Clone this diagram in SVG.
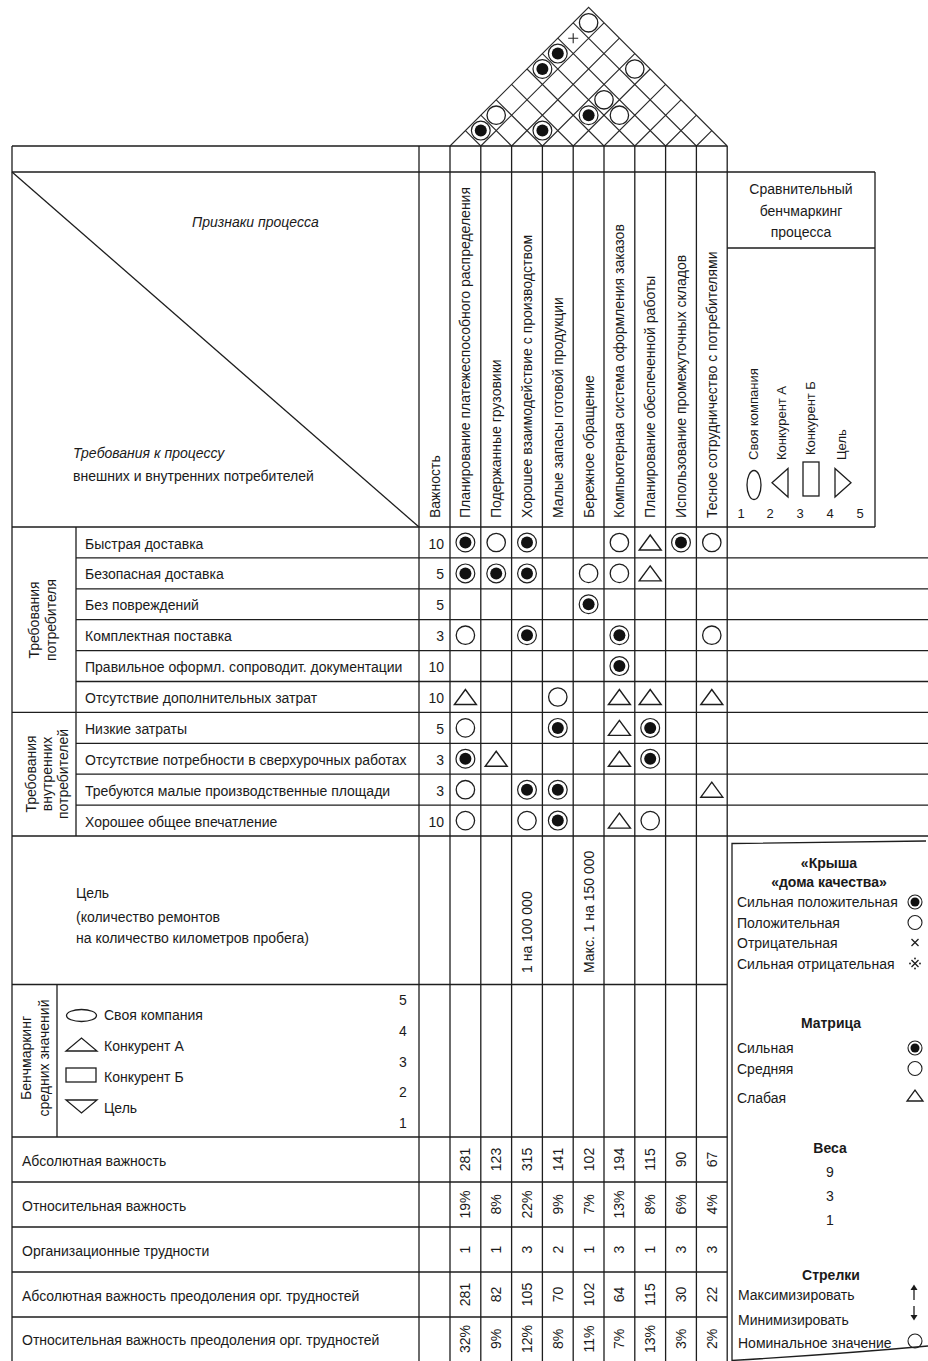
<svg xmlns="http://www.w3.org/2000/svg" width="928" height="1361" viewBox="0 0 928 1361">
<style>
  .ln{stroke:#1e1e1e;stroke-width:1.3;fill:none}
  .rf{stroke:#2a2a2a;stroke-width:1.1;fill:none}
  text{font-family:"Liberation Sans",Arial,sans-serif;font-size:14px;fill:#1a1a1a}
  .sm{font-size:13px}
  .bd{font-weight:bold}
  .it{font-style:italic}
  .mid{text-anchor:middle}
  .end{text-anchor:end}
</style>
<defs>
  <g id="bull"><circle r="9.4" fill="#fff" stroke="#1e1e1e" stroke-width="1.2"/><circle r="6" fill="#111"/></g>
  <circle id="ring" r="9.2" fill="none" stroke="#1e1e1e" stroke-width="1.3"/>
  <path id="tri" d="M-11 7.5H11L0 -7.5Z" fill="none" stroke="#1e1e1e" stroke-width="1.4"/>
  <g id="bull-s"><circle r="7" fill="#fff" stroke="#1e1e1e" stroke-width="1.1"/><circle r="4.5" fill="#111"/></g>
  <circle id="ring-s" r="7" fill="none" stroke="#1e1e1e" stroke-width="1.1"/>
</defs>
<rect width="928" height="1361" fill="#fff"/>

<!-- roof: correlation triangle above the process columns -->
<g id="roof">
  <path class="rf" d="M450 146L588.6 7.4L727.2 146
    M480.8 146L604 22.8M511.6 146L619.4 38.2M542.4 146L634.8 53.6M573.2 146L650.2 69
    M604 146L665.6 84.4M634.8 146L681 99.8M665.6 146L696.4 115.2M696.4 146L711.8 130.6
    M480.8 146L465.4 130.6M511.6 146L480.8 115.2M542.4 146L496.2 99.8M573.2 146L511.6 84.4
    M604 146L527 69M634.8 146L542.4 53.6M665.6 146L557.8 38.2M696.4 146L573.2 22.8"/>
  <use href="#ring" x="588.6" y="22.8"/>
  <path class="rf" d="M568.2 38.2H578.2M573.2 33.2V43.2" stroke-width="1.2"/>
  <use href="#bull" x="557.8" y="53.6"/>
  <use href="#bull" x="542.4" y="69"/>
  <use href="#ring" x="634.8" y="69"/>
  <use href="#ring" x="604" y="99.8"/>
  <use href="#bull" x="588.6" y="115.2"/>
  <use href="#ring" x="619.4" y="115.2"/>
  <use href="#ring" x="496.2" y="115.2"/>
  <use href="#bull" x="480.8" y="130.6"/>
  <use href="#bull" x="542.4" y="130.6"/>
</g>

<!-- table rules -->
<g id="grid-lines">
  <path class="ln" d="M12 146H727.2M12 172H875M727.2 248H875M12 527H875
    M76 557.9H928M76 588.8H928M76 619.7H928M76 650.6H928M76 681.5H928
    M12 712.4H928M76 743.3H928M76 774.2H928M76 805.1H928M12 836H928
    M12 984.5H727.2M12 1137H727.2M12 1182H727.2M12 1227H727.2M12 1272H727.2M12 1317H727.2"/>
  <path class="ln" d="M12 146V1361M419 146V1361M76 527V836M57 984.5V1137M875 172V527
    M450 146V1361M480.8 146V1361M511.6 146V1361M542.4 146V1361M573.2 146V1361
    M604 146V1361M634.8 146V1361M665.6 146V1361M696.4 146V1361M727.2 146V1361"/>
  <path class="ln" d="M12 172L419 527" stroke-width="1.1"/>
</g>

<!-- header corner -->
<g id="header">
  <text class="it" x="192" y="227">Признаки процесса</text>
  <text class="it" x="73" y="458">Требования к процессу</text>
  <text x="73" y="480.5">внешних и внутренних потребителей</text>
  <text transform="translate(439.5,518) rotate(-90)">Важность</text>
</g>

<!-- process characteristics (column headers) -->
<g id="columns">
  <text transform="translate(470.4,518) rotate(-90)">Планирование платежеспособного распределения</text>
  <text transform="translate(501.2,518) rotate(-90)">Подержанные грузовики</text>
  <text transform="translate(532,518) rotate(-90)">Хорошее взаимодействие с производством</text>
  <text transform="translate(562.8,518) rotate(-90)">Малые запасы готовой продукции</text>
  <text transform="translate(593.6,518) rotate(-90)">Бережное обращение</text>
  <text transform="translate(624.4,518) rotate(-90)">Компьютерная система оформления заказов</text>
  <text transform="translate(655.2,518) rotate(-90)">Планирование обеспеченной работы</text>
  <text transform="translate(686,518) rotate(-90)">Использование промежуточных складов</text>
  <text transform="translate(716.8,518) rotate(-90)">Тесное сотрудничество с потребителями</text>
</g>

<!-- comparative benchmarking header -->
<g id="benchmark-header">
  <text class="mid" x="801" y="194">Сравнительный</text>
  <text class="mid" x="801" y="215.5">бенчмаркинг</text>
  <text class="mid" x="801" y="237">процесса</text>
  <text class="sm" transform="translate(758,460) rotate(-90)">Своя компания</text>
  <text class="sm" transform="translate(786,460) rotate(-90)">Конкурент А</text>
  <text class="sm" transform="translate(815,455) rotate(-90)">Конкурент Б</text>
  <text class="sm" transform="translate(846,460) rotate(-90)">Цель</text>
  <ellipse cx="754" cy="485" rx="7" ry="14.5" class="ln" stroke-width="1.2"/>
  <path class="ln" stroke-width="1.2" d="M788 468.5V497L772 482.7Z"/>
  <rect x="803" y="462" width="16" height="34" class="ln" stroke-width="1.2"/>
  <path class="ln" stroke-width="1.2" d="M835 468.5V497L851 482.7Z"/>
  <text class="sm mid" x="741" y="518">1</text>
  <text class="sm mid" x="770" y="518">2</text>
  <text class="sm mid" x="800" y="518">3</text>
  <text class="sm mid" x="830" y="518">4</text>
  <text class="sm mid" x="860" y="518">5</text>
</g>

<!-- customer requirements with importance -->
<g id="requirements">
  <text class="mid" transform="translate(39,620) rotate(-90)">Требования</text>
  <text class="mid" transform="translate(56,620) rotate(-90)">потребителя</text>
  <text class="mid" transform="translate(36,774) rotate(-90)">Требования</text>
  <text class="mid" transform="translate(52,774) rotate(-90)">внутренних</text>
  <text class="mid" transform="translate(68,774) rotate(-90)">потребителей</text>
  <text x="85" y="548.5">Быстрая доставка</text>
  <text x="85" y="579.4">Безопасная доставка</text>
  <text x="85" y="610.3">Без повреждений</text>
  <text x="85" y="641.2">Комплектная поставка</text>
  <text x="85" y="672.1">Правильное оформл. сопроводит. документации</text>
  <text x="85" y="703">Отсутствие дополнительных затрат</text>
  <text x="85" y="733.9">Низкие затраты</text>
  <text x="85" y="764.8">Отсутствие потребности в сверхурочных работах</text>
  <text x="85" y="795.7">Требуются малые производственные площади</text>
  <text x="85" y="826.6">Хорошее общее впечатление</text>
  <text class="end" x="444" y="548.5">10</text>
  <text class="end" x="444" y="579.4">5</text>
  <text class="end" x="444" y="610.3">5</text>
  <text class="end" x="444" y="641.2">3</text>
  <text class="end" x="444" y="672.1">10</text>
  <text class="end" x="444" y="703">10</text>
  <text class="end" x="444" y="733.9">5</text>
  <text class="end" x="444" y="764.8">3</text>
  <text class="end" x="444" y="795.7">3</text>
  <text class="end" x="444" y="826.6">10</text>
</g>

<!-- relationship matrix -->
<g id="matrix">
  <use href="#bull" x="465.4" y="542.5"/><use href="#ring" x="496.2" y="542.5"/><use href="#bull" x="527" y="542.5"/>
  <use href="#ring" x="619.4" y="542.5"/><use href="#tri" x="650.2" y="542.5"/><use href="#bull" x="681" y="542.5"/><use href="#ring" x="711.8" y="542.5"/>

  <use href="#bull" x="465.4" y="573.4"/><use href="#bull" x="496.2" y="573.4"/><use href="#bull" x="527" y="573.4"/>
  <use href="#ring" x="588.6" y="573.4"/><use href="#ring" x="619.4" y="573.4"/><use href="#tri" x="650.2" y="573.4"/>

  <use href="#bull" x="588.6" y="604.3"/>

  <use href="#ring" x="465.4" y="635.2"/><use href="#bull" x="527" y="635.2"/><use href="#bull" x="619.4" y="635.2"/><use href="#ring" x="711.8" y="635.2"/>

  <use href="#bull" x="619.4" y="666.1"/>

  <use href="#tri" x="465.4" y="697"/><use href="#ring" x="557.8" y="697"/><use href="#tri" x="619.4" y="697"/><use href="#tri" x="650.2" y="697"/><use href="#tri" x="711.8" y="697"/>

  <use href="#ring" x="465.4" y="727.9"/><use href="#bull" x="557.8" y="727.9"/><use href="#tri" x="619.4" y="727.9"/><use href="#bull" x="650.2" y="727.9"/>

  <use href="#bull" x="465.4" y="758.8"/><use href="#tri" x="496.2" y="758.8"/><use href="#tri" x="619.4" y="758.8"/><use href="#bull" x="650.2" y="758.8"/>

  <use href="#ring" x="465.4" y="789.7"/><use href="#bull" x="527" y="789.7"/><use href="#bull" x="557.8" y="789.7"/><use href="#tri" x="711.8" y="789.7"/>

  <use href="#ring" x="465.4" y="820.6"/><use href="#ring" x="527" y="820.6"/><use href="#bull" x="557.8" y="820.6"/><use href="#tri" x="619.4" y="820.6"/><use href="#ring" x="650.2" y="820.6"/>
</g>

<!-- target values -->
<g id="targets">
  <text x="76" y="898.3">Цель</text>
  <text x="76" y="921.5">(количество ремонтов</text>
  <text x="76" y="943.3">на количество километров пробега)</text>
  <text transform="translate(532,973) rotate(-90)">1 на 100 000</text>
  <text transform="translate(593.6,973) rotate(-90)">Макс. 1 на 150 000</text>
</g>

<!-- average benchmarking -->
<g id="benchmark">
  <text class="mid" transform="translate(31,1058) rotate(-90)">Бенчмаркинг</text>
  <text class="mid" transform="translate(49,1058) rotate(-90)">средних значений</text>
  <ellipse cx="81.5" cy="1015.5" rx="15" ry="6" class="ln" stroke-width="1.2"/>
  <text x="104" y="1020">Своя компания</text>
  <path class="ln" stroke-width="1.2" d="M66 1051H97L81.5 1038Z"/>
  <text x="104" y="1051">Конкурент А</text>
  <rect x="66" y="1068" width="30" height="14" class="ln" stroke-width="1.2"/>
  <text x="104" y="1082.3">Конкурент Б</text>
  <path class="ln" stroke-width="1.2" d="M66 1100H97L81.5 1113Z"/>
  <text x="104" y="1113.3">Цель</text>
  <text class="mid" x="403" y="1005">5</text>
  <text class="mid" x="403" y="1036">4</text>
  <text class="mid" x="403" y="1066.5">3</text>
  <text class="mid" x="403" y="1097">2</text>
  <text class="mid" x="403" y="1128">1</text>
</g>

<!-- importance totals -->
<g id="totals">
  <text x="22" y="1165.5">Абсолютная важность</text>
  <text x="22" y="1210.5">Относительная важность</text>
  <text x="22" y="1255.5">Организационные трудности</text>
  <text x="22" y="1300.5">Абсолютная важность преодоления орг. трудностей</text>
  <text x="22" y="1345">Относительная важность преодоления орг. трудностей</text>
  <g class="mid">
    <text transform="translate(470.4,1159.5) rotate(-90)">281</text>
    <text transform="translate(501.2,1159.5) rotate(-90)">123</text>
    <text transform="translate(532,1159.5) rotate(-90)">315</text>
    <text transform="translate(562.8,1159.5) rotate(-90)">141</text>
    <text transform="translate(593.6,1159.5) rotate(-90)">102</text>
    <text transform="translate(624.4,1159.5) rotate(-90)">194</text>
    <text transform="translate(655.2,1159.5) rotate(-90)">115</text>
    <text transform="translate(686,1159.5) rotate(-90)">90</text>
    <text transform="translate(716.8,1159.5) rotate(-90)">67</text>

    <text transform="translate(470.4,1204.5) rotate(-90)">19%</text>
    <text transform="translate(501.2,1204.5) rotate(-90)">8%</text>
    <text transform="translate(532,1204.5) rotate(-90)">22%</text>
    <text transform="translate(562.8,1204.5) rotate(-90)">9%</text>
    <text transform="translate(593.6,1204.5) rotate(-90)">7%</text>
    <text transform="translate(624.4,1204.5) rotate(-90)">13%</text>
    <text transform="translate(655.2,1204.5) rotate(-90)">8%</text>
    <text transform="translate(686,1204.5) rotate(-90)">6%</text>
    <text transform="translate(716.8,1204.5) rotate(-90)">4%</text>

    <text transform="translate(470.4,1249.5) rotate(-90)">1</text>
    <text transform="translate(501.2,1249.5) rotate(-90)">1</text>
    <text transform="translate(532,1249.5) rotate(-90)">3</text>
    <text transform="translate(562.8,1249.5) rotate(-90)">2</text>
    <text transform="translate(593.6,1249.5) rotate(-90)">1</text>
    <text transform="translate(624.4,1249.5) rotate(-90)">3</text>
    <text transform="translate(655.2,1249.5) rotate(-90)">1</text>
    <text transform="translate(686,1249.5) rotate(-90)">3</text>
    <text transform="translate(716.8,1249.5) rotate(-90)">3</text>

    <text transform="translate(470.4,1294.5) rotate(-90)">281</text>
    <text transform="translate(501.2,1294.5) rotate(-90)">82</text>
    <text transform="translate(532,1294.5) rotate(-90)">105</text>
    <text transform="translate(562.8,1294.5) rotate(-90)">70</text>
    <text transform="translate(593.6,1294.5) rotate(-90)">102</text>
    <text transform="translate(624.4,1294.5) rotate(-90)">64</text>
    <text transform="translate(655.2,1294.5) rotate(-90)">115</text>
    <text transform="translate(686,1294.5) rotate(-90)">30</text>
    <text transform="translate(716.8,1294.5) rotate(-90)">22</text>

    <text transform="translate(470.4,1339) rotate(-90)">32%</text>
    <text transform="translate(501.2,1339) rotate(-90)">9%</text>
    <text transform="translate(532,1339) rotate(-90)">12%</text>
    <text transform="translate(562.8,1339) rotate(-90)">8%</text>
    <text transform="translate(593.6,1339) rotate(-90)">11%</text>
    <text transform="translate(624.4,1339) rotate(-90)">7%</text>
    <text transform="translate(655.2,1339) rotate(-90)">13%</text>
    <text transform="translate(686,1339) rotate(-90)">3%</text>
    <text transform="translate(716.8,1339) rotate(-90)">2%</text>
  </g>
</g>

<!-- symbol legend -->
<g id="legend">
  <path class="ln" d="M732 1361V843.5Q830 842 926 841M732 1360.5Q840 1354 928 1346"/>
  <text class="bd mid" x="829" y="868">«Крыша</text>
  <text class="bd mid" x="829" y="887">«дома качества»</text>
  <text x="737" y="907">Сильная положительная</text>
  <use href="#bull-s" x="915" y="902"/>
  <text x="737" y="927.5">Положительная</text>
  <use href="#ring-s" x="915" y="922.5"/>
  <text x="737" y="947.5">Отрицательная</text>
  <path class="ln" stroke-width="1" d="M911.5 939L918.5 946M918.5 939L911.5 946"/>
  <text x="737" y="968.5">Сильная отрицательная</text>
  <path class="ln" stroke-width="1" d="M911.5 960L918.5 967M918.5 960L911.5 967"/>
  <g fill="#1a1a1a"><circle cx="915" cy="958.5" r="0.9"/><circle cx="915" cy="968.5" r="0.9"/><circle cx="910" cy="963.5" r="0.9"/><circle cx="920" cy="963.5" r="0.9"/></g>
  <text class="bd mid" x="831" y="1028">Матрица</text>
  <text x="737" y="1053">Сильная</text>
  <use href="#bull-s" x="915" y="1048"/>
  <text x="737" y="1073.5">Средняя</text>
  <use href="#ring-s" x="915" y="1068.5"/>
  <text x="737" y="1103">Слабая</text>
  <path class="ln" stroke-width="1.1" d="M907 1101H923L915 1090Z"/>
  <text class="bd mid" x="830" y="1153">Веса</text>
  <text class="mid" x="830" y="1177">9</text>
  <text class="mid" x="830" y="1201">3</text>
  <text class="mid" x="830" y="1225">1</text>
  <text class="bd mid" x="831" y="1280">Стрелки</text>
  <text x="738" y="1300">Максимизировать</text>
  <path class="ln" stroke-width="1.1" d="M914 1300V1289"/>
  <path fill="#1a1a1a" d="M910.5 1290L914 1284.5L917.5 1290Z"/>
  <text x="738" y="1325">Минимизировать</text>
  <path class="ln" stroke-width="1.1" d="M914 1306V1316"/>
  <path fill="#1a1a1a" d="M910.5 1315L914 1320.5L917.5 1315Z"/>
  <text x="738" y="1348">Номинальное значение</text>
  <use href="#ring-s" x="915" y="1341"/>
</g>
</svg>
